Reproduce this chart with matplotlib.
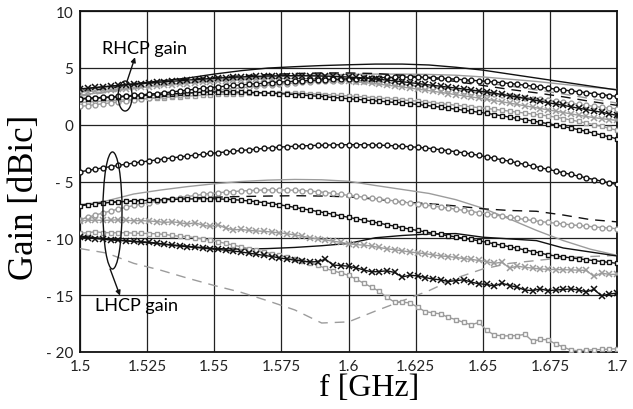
import numpy as np
import matplotlib
matplotlib.use("Agg")
import matplotlib.pyplot as plt
from matplotlib.patches import Ellipse

# frequency grids [GHz]
f_meas = np.linspace(1.5, 1.7, 71)
f_sim = np.linspace(1.5, 1.7, 21)

# ---- RHCP gain (upper bundle) ----
rhcp_black_x = [
    3.15, 3.21, 3.27, 3.33, 3.39, 3.45, 3.50, 3.56, 3.61, 3.67,
    3.72, 3.77, 3.82, 3.87, 3.92, 3.97, 4.01, 4.06, 4.10, 4.14,
    4.17, 4.20, 4.23, 4.25, 4.27, 4.29, 4.30, 4.31, 4.31, 4.31,
    4.30, 4.29, 4.27, 4.25, 4.22, 4.19, 4.15, 4.11, 4.05, 3.99,
    3.92, 3.85, 3.78, 3.70, 3.62, 3.54, 3.46, 3.38, 3.30, 3.22,
    3.13, 3.05, 2.96, 2.87, 2.77, 2.66, 2.55, 2.43, 2.31, 2.19,
    2.06, 1.93, 1.82, 1.70, 1.57, 1.45, 1.33, 1.21, 1.09, 0.95, 0.82]
rhcp_black_o = [
    2.30, 2.33, 2.36, 2.40, 2.44, 2.48, 2.53, 2.58, 2.63, 2.68,
    2.74, 2.81, 2.88, 2.96, 3.04, 3.12, 3.19, 3.26, 3.33, 3.39,
    3.45, 3.50, 3.55, 3.60, 3.65, 3.70, 3.74, 3.78, 3.82, 3.86,
    3.89, 3.92, 3.95, 3.98, 4.01, 4.03, 4.06, 4.09, 4.11, 4.13,
    4.15, 4.17, 4.18, 4.18, 4.17, 4.15, 4.12, 4.08, 4.04, 4.00,
    3.95, 3.90, 3.86, 3.81, 3.75, 3.69, 3.62, 3.55, 3.47, 3.39,
    3.30, 3.21, 3.13, 3.05, 2.97, 2.89, 2.81, 2.72, 2.64, 2.56, 2.48]
rhcp_black_s = [
    2.25, 2.29, 2.33, 2.37, 2.41, 2.44, 2.48, 2.52, 2.55, 2.59,
    2.63, 2.67, 2.71, 2.75, 2.79, 2.82, 2.85, 2.87, 2.88, 2.88,
    2.87, 2.86, 2.84, 2.82, 2.79, 2.76, 2.73, 2.69, 2.65, 2.60,
    2.55, 2.50, 2.45, 2.39, 2.34, 2.28, 2.23, 2.17, 2.12, 2.06,
    2.01, 1.96, 1.91, 1.85, 1.78, 1.70, 1.62, 1.54, 1.45, 1.36,
    1.27, 1.18, 1.09, 1.00, 0.89, 0.78, 0.66, 0.55, 0.44, 0.32,
    0.21, 0.09, -0.03, -0.16, -0.30, -0.44, -0.59, -0.75, -0.91, -1.07, -1.25]
rhcp_grey_s = [
    1.95, 1.99, 2.03, 2.07, 2.11, 2.15, 2.19, 2.23, 2.27, 2.31,
    2.35, 2.39, 2.43, 2.47, 2.51, 2.55, 2.59, 2.63, 2.66, 2.69,
    2.72, 2.74, 2.76, 2.78, 2.79, 2.80, 2.80, 2.79, 2.77, 2.75,
    2.72, 2.69, 2.65, 2.61, 2.57, 2.53, 2.49, 2.44, 2.39, 2.34,
    2.29, 2.24, 2.18, 2.13, 2.07, 2.00, 1.93, 1.86, 1.78, 1.71,
    1.64, 1.57, 1.50, 1.43, 1.35, 1.27, 1.19, 1.10, 1.02, 0.93,
    0.85, 0.77, 0.66, 0.54, 0.41, 0.28, 0.14, 0.00, -0.15, -0.32, -0.50]
rhcp_grey_o = [
    1.60, 1.68, 1.76, 1.84, 1.92, 2.00, 2.08, 2.16, 2.24, 2.32,
    2.40, 2.48, 2.56, 2.64, 2.72, 2.80, 2.88, 2.96, 3.03, 3.10,
    3.17, 3.24, 3.31, 3.38, 3.45, 3.51, 3.57, 3.62, 3.67, 3.72,
    3.76, 3.80, 3.83, 3.86, 3.88, 3.89, 3.88, 3.85, 3.81, 3.76,
    3.70, 3.63, 3.56, 3.48, 3.41, 3.34, 3.27, 3.19, 3.12, 3.04,
    2.97, 2.89, 2.82, 2.75, 2.67, 2.60, 2.52, 2.45, 2.37, 2.30,
    2.22, 2.14, 2.06, 1.97, 1.88, 1.79, 1.70, 1.61, 1.52, 1.45, 1.40]
rhcp_grey_x = [
    2.85, 2.91, 2.96, 3.02, 3.07, 3.12, 3.18, 3.23, 3.28, 3.33,
    3.39, 3.45, 3.50, 3.56, 3.62, 3.67, 3.72, 3.77, 3.81, 3.85,
    3.89, 3.93, 3.96, 3.99, 4.02, 4.04, 4.05, 4.06, 4.06, 4.05,
    4.04, 4.02, 3.99, 3.95, 3.90, 3.84, 3.78, 3.71, 3.64, 3.56,
    3.48, 3.40, 3.31, 3.22, 3.13, 3.04, 2.94, 2.84, 2.74, 2.64,
    2.54, 2.44, 2.34, 2.23, 2.12, 2.01, 1.90, 1.78, 1.66, 1.54,
    1.42, 1.31, 1.19, 1.07, 0.95, 0.83, 0.72, 0.62, 0.53, 0.45, 0.38]
rhcp_black_line = [3.10, 3.35, 3.60, 3.85, 4.10, 4.45, 4.75, 4.98, 5.10, 5.20,
                   5.27, 5.33, 5.33, 5.25, 5.05, 4.80, 4.45, 4.10, 3.75, 3.40, 3.05]
rhcp_grey_line = [2.60, 2.90, 3.20, 3.45, 3.70, 3.90, 4.05, 4.20, 4.30, 4.38,
                  4.42, 4.45, 4.45, 4.42, 4.35, 4.20, 4.00, 3.80, 3.55, 3.30, 3.10]
rhcp_black_dash = [2.90, 3.20, 3.50, 3.75, 4.00, 4.15, 4.30, 4.40, 4.50, 4.55,
                   4.55, 4.50, 4.35, 4.10, 3.80, 3.45, 3.10, 2.80, 2.45, 2.05, 1.70]
rhcp_grey_dash = [2.50, 2.85, 3.20, 3.50, 3.80, 4.00, 4.20, 4.35, 4.45, 4.50,
                  4.50, 4.45, 4.35, 4.20, 3.95, 3.70, 3.40, 3.05, 2.70, 2.30, 1.90]

# ---- LHCP gain (lower bundle) ----
lhcp_black_o = [
    -4.15, -4.03, -3.91, -3.80, -3.69, -3.58, -3.48, -3.38, -3.28, -3.19,
    -3.10, -3.01, -2.92, -2.84, -2.76, -2.68, -2.61, -2.53, -2.46, -2.40,
    -2.34, -2.27, -2.21, -2.15, -2.09, -2.03, -1.98, -1.93, -1.90, -1.87,
    -1.84, -1.82, -1.80, -1.78, -1.77, -1.76, -1.76, -1.77, -1.78, -1.80,
    -1.83, -1.86, -1.90, -1.94, -1.99, -2.05, -2.12, -2.20, -2.29, -2.38,
    -2.48, -2.58, -2.70, -2.83, -2.96, -3.09, -3.22, -3.36, -3.50, -3.64,
    -3.78, -3.93, -4.08, -4.23, -4.38, -4.53, -4.68, -4.83, -4.97, -5.12, -5.26]
lhcp_black_s = [
    -7.15, -7.05, -6.97, -6.90, -6.84, -6.79, -6.75, -6.72, -6.68, -6.66,
    -6.63, -6.60, -6.58, -6.55, -6.54, -6.53, -6.52, -6.52, -6.53, -6.56,
    -6.60, -6.65, -6.71, -6.78, -6.86, -6.95, -7.05, -7.16, -7.28, -7.40,
    -7.52, -7.64, -7.76, -7.89, -8.02, -8.15, -8.28, -8.41, -8.54, -8.67,
    -8.80, -8.93, -9.06, -9.19, -9.31, -9.43, -9.55, -9.66, -9.77, -9.88,
    -9.99, -10.10, -10.22, -10.35, -10.48, -10.61, -10.74, -10.88, -11.02, -11.16,
    -11.30, -11.45, -11.55, -11.63, -11.72, -11.80, -11.88, -11.96, -12.04, -12.12, -12.20]
lhcp_grey_o = [
    -8.35, -8.15, -7.95, -7.77, -7.59, -7.42, -7.26, -7.11, -6.97, -6.85,
    -6.73, -6.62, -6.51, -6.41, -6.32, -6.23, -6.14, -6.06, -5.99, -5.93,
    -5.88, -5.84, -5.80, -5.77, -5.75, -5.74, -5.74, -5.75, -5.77, -5.80,
    -5.85, -5.90, -5.97, -6.05, -6.13, -6.22, -6.30, -6.38, -6.46, -6.54,
    -6.62, -6.71, -6.80, -6.89, -6.98, -7.07, -7.16, -7.25, -7.34, -7.44,
    -7.54, -7.64, -7.74, -7.84, -7.94, -8.04, -8.14, -8.24, -8.34, -8.43,
    -8.52, -8.60, -8.67, -8.74, -8.81, -8.87, -8.93, -8.99, -9.05, -9.10, -9.15]
lhcp_grey_x = [
    -8.45, -8.42, -8.40, -8.42, -8.40, -8.38, -8.42, -8.45, -8.44, -8.48,
    -8.52, -8.60, -8.55, -8.62, -8.75, -8.62, -8.85, -8.95, -8.80, -9.10,
    -9.25, -9.22, -9.30, -9.35, -9.38, -9.45, -9.52, -9.60, -9.70, -9.82,
    -9.95, -10.05, -10.15, -10.25, -10.35, -10.48, -10.55, -10.60, -10.68, -10.80,
    -10.92, -11.00, -11.10, -11.20, -11.28, -11.35, -11.45, -11.55, -11.60, -11.68,
    -11.78, -11.85, -11.95, -12.05, -12.20, -12.10, -12.62, -12.45, -12.55, -12.62,
    -12.70, -12.72, -12.75, -12.76, -12.78, -12.80, -12.82, -13.35, -13.05, -13.18, -13.16]
lhcp_grey_s = [
    -9.56, -9.50, -9.42, -9.50, -9.50, -9.52, -9.50, -9.55, -9.56, -9.58,
    -9.60, -9.65, -9.75, -9.82, -9.85, -9.95, -10.05, -10.18, -10.30, -10.45,
    -10.60, -10.75, -10.90, -11.05, -11.20, -11.35, -11.50, -11.65, -11.80, -11.98,
    -12.13, -12.35, -12.65, -12.85, -13.05, -13.25, -13.60, -13.95, -14.30, -14.65,
    -15.20, -15.60, -15.62, -15.68, -16.05, -16.45, -16.55, -16.65, -16.95, -17.15,
    -17.40, -17.60, -17.40, -18.10, -18.50, -18.58, -18.58, -18.55, -18.45, -19.05,
    -18.90, -18.92, -19.30, -19.55, -19.85, -19.88, -19.85, -19.80, -19.78, -19.74, -19.72]
lhcp_black_x = [
    -9.88, -9.95, -10.02, -10.08, -10.15, -10.18, -10.22, -10.26, -10.30, -10.34,
    -10.42, -10.52, -10.62, -10.68, -10.74, -10.80, -10.86, -10.93, -10.98, -11.05,
    -11.12, -11.20, -11.30, -11.40, -11.50, -11.60, -11.72, -11.82, -11.92, -12.00,
    -12.08, -12.05, -11.84, -12.35, -12.40, -12.45, -12.60, -12.78, -12.95, -12.92,
    -12.86, -13.00, -13.40, -13.25, -13.30, -13.45, -13.58, -13.65, -13.80, -13.72,
    -13.65, -13.85, -14.00, -14.05, -14.20, -13.95, -14.15, -14.30, -14.55, -14.60,
    -14.45, -14.60, -14.55, -14.50, -14.45, -14.55, -14.70, -14.50, -15.06, -14.90, -14.82]
lhcp_black_line = [-9.80, -10.05, -10.28, -10.48, -10.70, -10.90, -10.95, -10.90, -10.80, -10.65,
                   -10.45, -9.95, -9.75, -9.62, -9.58, -9.90, -10.05, -10.20, -10.85, -11.20, -11.55]
lhcp_grey_line = [-7.10, -6.70, -6.10, -5.75, -5.45, -5.20, -5.00, -4.88, -4.82, -4.85,
                  -4.98, -5.35, -5.70, -6.05, -6.60, -7.35, -8.30, -9.30, -10.20, -10.95, -11.50]
lhcp_black_dash = [-7.05, -6.85, -6.70, -6.55, -6.45, -6.38, -6.32, -6.28, -6.25, -6.28,
                   -6.35, -6.55, -6.80, -6.95, -7.15, -7.40, -7.55, -7.62, -7.95, -8.35, -8.55]
lhcp_grey_dash = [-10.90, -11.30, -12.20, -12.80, -13.50, -14.15, -14.75, -15.50, -16.30, -17.45,
                  -17.35, -16.40, -15.50, -14.60, -13.50, -12.70, -12.20, -11.95, -11.70, -11.60, -11.50]

x_ticks = [1.5, 1.525, 1.55, 1.575, 1.6, 1.625, 1.65, 1.675, 1.7]
x_ticklabels = ["1.5", "1.525", "1.55", "1.575", "1.6", "1.625", "1.65", "1.675", "1.7"]
y_ticks = [-20, -15, -10, -5, 0, 5, 10]
y_ticklabels = ["- 20", "- 15", "- 10", "- 5", "0", "5", "10"]

BLACK = "#111111"
GREY = "#9c9c9c"
tick_font = "Lato"
serif_font = "Liberation Serif"

fig = plt.figure(figsize=(6.33, 4.10), dpi=100)
ax = fig.add_axes([80 / 633, 1 - 353 / 410, 537 / 633, 341 / 410])

# simulated curves (no markers)
for ys, col, ls in [(rhcp_grey_line, GREY, "-"), (rhcp_grey_dash, GREY, (0, (7, 5))),
                    (lhcp_grey_line, GREY, "-"), (lhcp_grey_dash, GREY, (0, (7, 5))),
                    (rhcp_black_line, BLACK, "-"), (rhcp_black_dash, BLACK, (0, (7, 5))),
                    (lhcp_black_line, BLACK, "-"), (lhcp_black_dash, BLACK, (0, (7, 5)))]:
    ax.plot(f_sim, ys, color=col, linestyle=ls, lw=1.0, zorder=3)

# measured curves (with markers)
marker_series = [
    (rhcp_grey_s, GREY, "s"), (rhcp_grey_o, GREY, "o"), (rhcp_grey_x, GREY, "x"),
    (lhcp_grey_s, GREY, "s"), (lhcp_grey_o, GREY, "o"), (lhcp_grey_x, GREY, "x"),
    (rhcp_black_s, BLACK, "s"), (rhcp_black_o, BLACK, "o"), (rhcp_black_x, BLACK, "x"),
    (lhcp_black_s, BLACK, "s"), (lhcp_black_o, BLACK, "o"), (lhcp_black_x, BLACK, "x"),
]
for ys, col, mk in marker_series:
    if mk == "x":
        ax.plot(f_meas, ys, color=col, lw=1.0, marker="x", markersize=4.0,
                markeredgewidth=1.1, zorder=4)
    else:
        ax.plot(f_meas, ys, color=col, lw=1.0, marker=mk, markersize=3.5,
                markerfacecolor="white", markeredgecolor=col,
                markeredgewidth=1.0, zorder=4)

ax.set_xlim(1.5, 1.7)
ax.set_ylim(-20, 10)
ax.set_xticks(x_ticks)
ax.set_xticklabels(x_ticklabels, fontfamily=tick_font, fontsize=11)
ax.set_yticks(y_ticks)
ax.set_yticklabels(y_ticklabels, fontfamily=tick_font, fontsize=11)
ax.tick_params(length=0, pad=5, colors="#222222")
ax.grid(True, color="#222222", lw=0.9, zorder=1)
ax.set_axisbelow(True)
for sp in ax.spines.values():
    sp.set_color("#111111")
    sp.set_linewidth(1.3)

fig.text(369 / 633, 1 - 396 / 410, "f [GHz]", fontfamily=serif_font, fontsize=23,
         ha="center", va="baseline")
fig.text(25 / 633, 1 - 197 / 410, "Gain [dBic]", fontfamily=serif_font, fontsize=25,
         ha="center", va="center", rotation=90)

# annotations
ax.add_patch(Ellipse((1.5168, 2.52), 0.0052, 2.64, fill=False, ec=BLACK, lw=1.0, zorder=5))
ax.add_patch(Ellipse((1.5121, -7.55), 0.0071, 10.3, fill=False, ec=BLACK, lw=1.0, zorder=5))
ax.annotate("", xy=(1.5205, 5.93), xytext=(1.5174, 3.73),
            arrowprops=dict(arrowstyle="-|>", color=BLACK, lw=1.0, mutation_scale=7,
                            shrinkA=0, shrinkB=0), zorder=5)
ax.annotate("", xy=(1.5149, -15.04), xytext=(1.5112, -12.69),
            arrowprops=dict(arrowstyle="-|>", color=BLACK, lw=1.0, mutation_scale=7,
                            shrinkA=0, shrinkB=0), zorder=5)
ax.text(1.5242, 6.75, "RHCP gain", fontfamily=tick_font, fontsize=13,
        ha="center", va="center", zorder=6)
ax.text(1.5209, -15.86, "LHCP gain", fontfamily=tick_font, fontsize=13,
        ha="center", va="center", zorder=6)

fig.savefig("out.png", dpi=100)
